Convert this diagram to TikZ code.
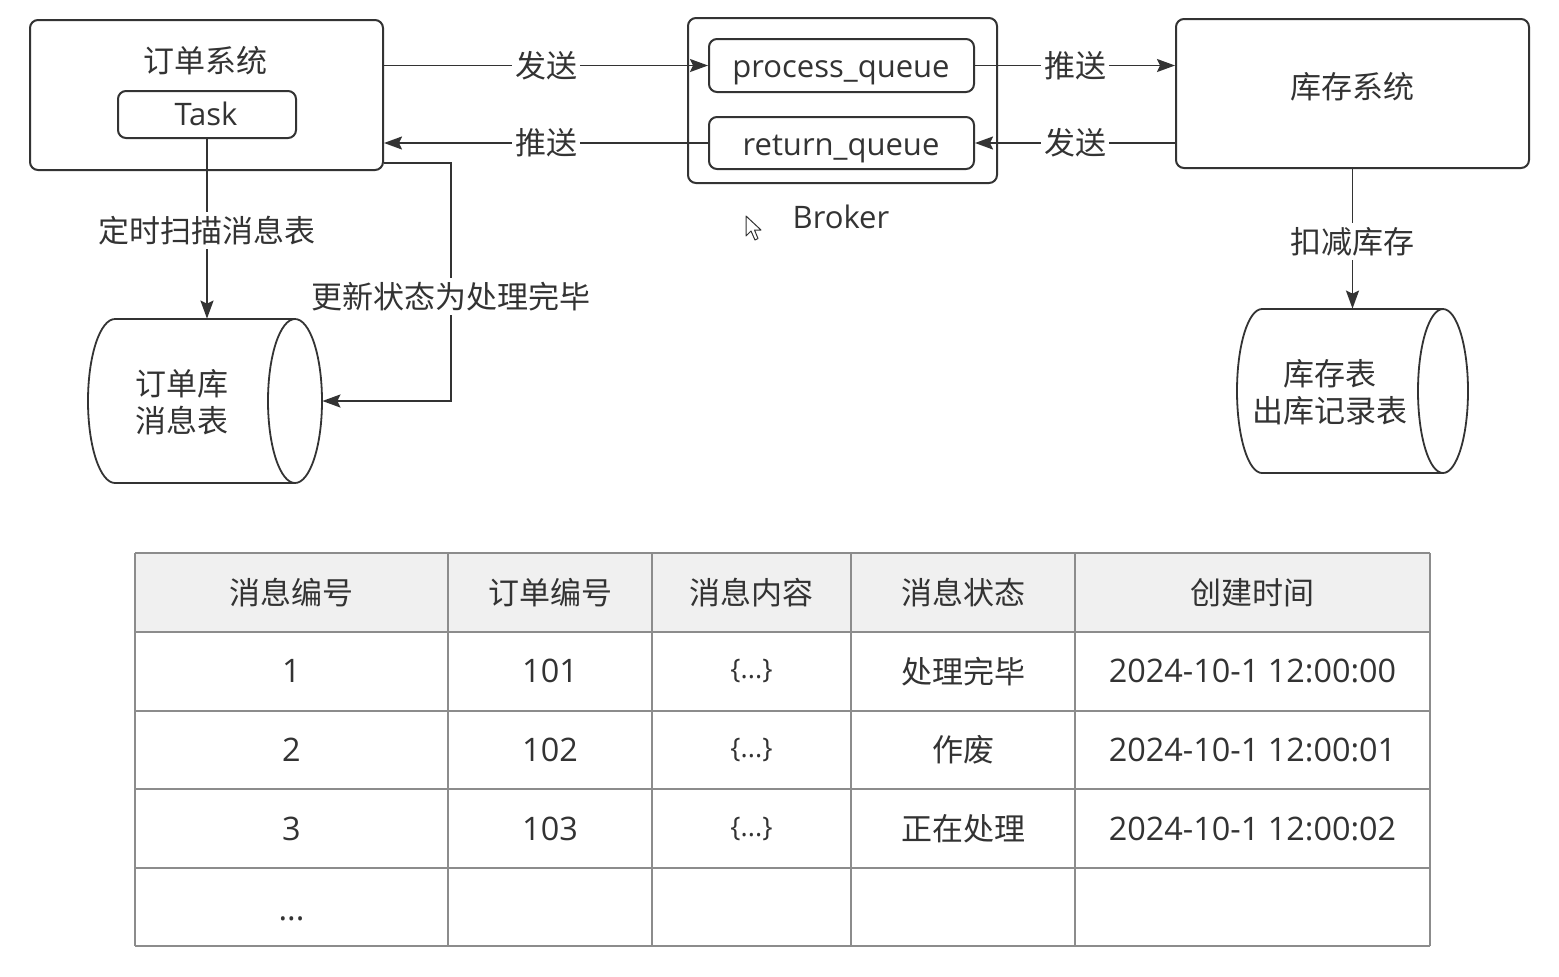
\documentclass[tikz,border=0pt]{standalone}
\usepackage{fontspec}
\setmainfont{Noto Sans CJK SC}
\newfontfamily\latinfont{Open Sans}
\usetikzlibrary{arrows.meta}
\definecolor{ink}{HTML}{333333}
\definecolor{gridline}{HTML}{8C8C8C}
\definecolor{headfill}{HTML}{F0F0F0}

\tikzset{
  sysbox/.style={draw=ink, line width=1pt, rounded corners=4pt, fill=white, inner sep=0pt},
  txt/.style={text=ink, inner sep=0pt},
  lat/.style={txt, font=\latinfont\fontsize{15.5}{18}\selectfont},
  num/.style={txt, font=\latinfont\fontsize{16.2}{19}\selectfont},
  flow/.style={draw=ink, line width=0.9pt, -{Stealth[length=9pt,width=6.5pt,inset=1.5pt]}},
  lbl/.style={txt, fill=white, inner xsep=1.5pt, inner ysep=2pt},
  dbshape/.style={draw=ink, line width=0.9pt, fill=white},
  cell/.style={txt},
}

\begin{document}
\begin{tikzpicture}[x=0.5pt, y=-0.5pt, font=\fontsize{15.5}{18.5}\selectfont]
\useasboundingbox[fill=white] (0,0) rectangle (1559,976);

% ---- systems and broker ----
\node[sysbox, minimum width=176.5pt, minimum height=75pt] (order) at (206.5,95) {};
\node[txt] (ordertitle) at (205,61) {订单系统};
\node[sysbox, minimum width=89pt, minimum height=23.5pt] (task) at (207,114.5) {};
\node[lat, anchor=base] (tasktext) at (206,125) {Task};

\node[sysbox, minimum width=154.5pt, minimum height=82.5pt] (broker) at (842.5,100.5) {};
\node[sysbox, minimum width=132.5pt, minimum height=26.5pt] (pq) at (841.5,65.5) {};
\node[sysbox, minimum width=132.5pt, minimum height=26pt] (rq) at (841.5,143) {};
\node[lat, anchor=base] (pqtext) at (841,77) {process\_queue};
\node[lat, anchor=base] (rqtext) at (841,155) {return\_queue};
\node[lat, anchor=base] (brokername) at (841,228) {Broker};

\node[sysbox, minimum width=176.5pt, minimum height=74.5pt] (stock) at (1352.5,93.5) {};
\node[txt] (stocktitle) at (1352,87) {库存系统};

% ---- order database (horizontal cylinder) ----
\node[inner sep=0pt, minimum width=117pt, minimum height=82pt] (db1) at (205,401) {};
\path[dbshape] (295,319) -- (115,319)
   arc[start angle=90, end angle=270, x radius=13.5pt, y radius=41pt] -- (295,483);
\draw[dbshape] (295,401) ellipse[x radius=13.5pt, y radius=41pt];
\node[txt, align=center] (db1text) at (182,402) {订单库\\消息表};

% ---- stock database (horizontal cylinder) ----
\node[inner sep=0pt, minimum width=115.5pt, minimum height=82pt] (db2) at (1352.5,391) {};
\path[dbshape] (1443,309) -- (1262,309)
   arc[start angle=90, end angle=270, x radius=12.5pt, y radius=41pt] -- (1443,473);
\draw[dbshape] (1443,391) ellipse[x radius=12.5pt, y radius=41pt];
\node[txt, align=center] (db2text) at (1330,392) {库存表\\出库记录表};

% ---- message flow ----
\draw[flow] (order.east |- pq) -- node[lbl]{发送} (pq.west);
\draw[flow] (rq.west) -- node[lbl]{推送} (order.east |- rq);
\draw[flow] (pq.east) -- node[lbl]{推送} (stock.west |- pq);
\draw[flow] (stock.west |- rq) -- node[lbl]{发送} (rq.east);

\draw[flow] (task.south) -- node[lbl, pos=0.51]{定时扫描消息表} (task.south |- db1.north);
\draw[flow] (stock.south) -- node[lbl, pos=0.52]{扣减库存} (db2.north);

\coordinate (bend) at (451,163);
\draw[flow] (order.east |- bend) -- (bend)
   -- node[lbl, pos=0.56]{更新状态为处理完毕} (bend |- db1.east) -- (db1.east);

% ---- mouse pointer ----
\draw[ink, line width=0.5pt, fill=white, line join=round]
  (746,216) -- (746,236) -- (751,231) -- (755,240) -- (758,238.5) -- (754.5,230) -- (761,230) -- cycle;

% ---- message table ----
\fill[headfill] (135,553) rectangle (1430,632);
\foreach \yy in {553,632,711,789,868,946}
  \draw[gridline, line width=1pt] (135,\yy) -- (1430,\yy);
\foreach \xx in {135,448,652,851,1075,1430}
  \draw[gridline, line width=1pt] (\xx,553) -- (\xx,946);

\foreach \t [count=\c] / \cx in {消息编号/291.5, 订单编号/550, 消息内容/751.5, 消息状态/963, 创建时间/1252.5}
  \node[cell] (h\c) at (\cx,592.5) {\t};

\foreach \a/\b/\s/\d [count=\r] in {
    1/101/处理完毕/2024-10-1 12:00:00,
    2/102/作废/2024-10-1 12:00:01,
    3/103/正在处理/2024-10-1 12:00:02} {
  \pgfmathsetmacro\cy{592.5+78.75*\r}
  \node[num] (r\r c1) at (291.5,\cy) {\a};
  \node[num] (r\r c2) at (550,\cy) {\b};
  \node[cell, font=\latinfont\fontsize{13.5}{16}\selectfont] (r\r c3) at (751.5,\cy) {\{...\}};
  \node[cell] (r\r c4) at (963,\cy) {\s};
  \node[num] (r\r c5) at (1252.5,\cy) {\d};
}
\node[num, anchor=base] (r4c1) at (291.5,920) {...};

\end{tikzpicture}
\end{document}
